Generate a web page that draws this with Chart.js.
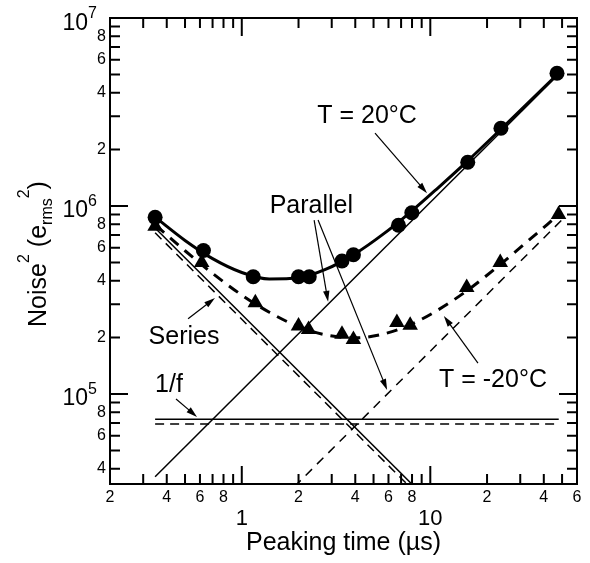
<!DOCTYPE html>
<html>
<head>
<meta charset="utf-8">
<script src="https://cdn.jsdelivr.net/npm/chart.js@4.4.0/dist/chart.umd.min.js"></script>
<style>
  html, body { margin: 0; padding: 0; background: #fff; }
  #chart { display: block; }
</style>
</head>
<body>
<canvas id="chart" width="590" height="563"></canvas>
<script>
// Puntos medidos (tiempo de conformado en us, ruido^2 en e_rms^2)
var tiempos20 = [0.347, 0.626, 1.15, 2.0, 2.28, 3.40, 3.91, 6.78, 7.98, 15.8, 23.7, 47];
var ruido20 = [8.7e5, 5.8e5, 4.2e5, 4.2e5, 4.2e5, 5.1e5, 5.5e5, 7.9e5, 9.2e5, 1.71e6, 2.59e6, 5.08e6];
var tiemposM20 = [0.347, 0.613, 1.18, 2.0, 2.26, 3.40, 3.91, 6.65, 7.82, 15.6, 23.5, 47.9];
var ruidoM20 = [7.8e5, 5.0e5, 3.06e5, 2.3e5, 2.2e5, 2.08e5, 1.95e5, 2.4e5, 2.32e5, 3.68e5, 5.0e5, 9.0e5];

// Curvas de ajuste
var tiemposAjuste = [0.35, 0.5, 0.7, 1.0, 1.4, 2, 2.8, 4, 5.6, 8, 11, 16, 23, 32, 48];
var ajuste20 = [8.67e5, 6.56e5, 5.25e5, 4.43e5, 4.09e5, 4.15e5, 4.61e5, 5.58e5, 7.06e5, 9.43e5, 1.25e6, 1.76e6, 2.49e6, 3.43e6, 5.1e6];
var ajusteM20 = [7.89e5, 5.78e5, 4.38e5, 3.36e5, 2.72e5, 2.28e5, 2.06e5, 1.99e5, 2.08e5, 2.36e5, 2.8e5, 3.6e5, 4.8e5, 6.35e5, 9.0e5];

// Componentes de ruido (serie, paralelo, 1/f)
var serieX20 = [0.347, 8.3];
var serieY20 = [7.64e5, 3.19e4];
var serieXM20 = [0.347, 8.0];
var serieYM20 = [7.2e5, 3.12e4];
var paraleloX20 = [0.347, 48];
var paraleloY20 = [3.63e4, 5.02e6];
var paraleloXM20 = [1.9, 50];
var paraleloYM20 = [3.21e4, 8.45e5];
var unoFX20 = [0.347, 48];
var unoFY20 = [7.33e4, 7.33e4];
var unoFXM20 = [0.347, 46];
var unoFYM20 = [6.92e4, 6.92e4];

// Marcas y etiquetas de los ejes
var mayoresX = [1, 10];
var menoresX = [0.3, 0.4, 0.5, 0.6, 0.7, 0.8, 0.9, 2, 3, 4, 5, 6, 7, 8, 9, 20, 30, 40, 50];
var etiquetasX = [0.2, 0.4, 0.6, 0.8, 2, 4, 6, 8, 20, 40, 60];
var mayoresY = [1e5, 1e6, 1e7];
var menoresY = [4e4, 5e4, 6e4, 7e4, 8e4, 9e4, 2e5, 3e5, 4e5, 5e5, 6e5, 7e5, 8e5, 9e5, 2e6, 3e6, 4e6, 5e6, 6e6, 7e6, 8e6, 9e6];
var etiquetasY = [4e4, 6e4, 8e4, 2e5, 4e5, 6e5, 8e5, 2e6, 4e6, 6e6, 8e6];

// Textos y flechas (en coordenadas de datos)
var textos = [
  { texto: 'T = 20°C', x: 4.62, y: 3.09e6 },
  { texto: 'Parallel', x: 2.34, y: 1.03e6 },
  { texto: 'Series', x: 0.494, y: 2.06e5 },
  { texto: '1/f', x: 0.411, y: 1.144e5 },
  { texto: 'T = -20°C', x: 21.5, y: 1.217e5 }
];
var flechas = [
  { de: [5.09, 2.44e6], a: [9.61, 1.17e6] },
  { de: [2.42, 8.42e5], a: [2.87, 3.09e5] },
  { de: [2.54, 8.42e5], a: [5.9, 1.05e5] },
  { de: [0.519, 2.51e5], a: [0.721, 3.24e5] },
  { de: [0.448, 9.41e4], a: [0.579, 7.55e4] },
  { de: [17.9, 1.46e5], a: [11.8, 2.6e5] }
];

var fuente = '"Liberation Sans", Arial, Helvetica, sans-serif';

function puntos(xs, ys) {
  return xs.map(function(x, i) { return { x: x, y: ys[i] }; });
}

function linea(xs, ys, grosor, guiones) {
  return {
    data: puntos(xs, ys),
    showLine: true,
    borderColor: '#000',
    borderWidth: grosor,
    borderDash: guiones || [],
    pointRadius: 0,
    fill: false
  };
}

function digito(v) {
  var e = Math.floor(Math.log10(v) + 1e-9);
  return String(Math.round(v / Math.pow(10, e)));
}

function flecha(ctx, x1, y1, x2, y2) {
  var ang = Math.atan2(y2 - y1, x2 - x1);
  var c = Math.cos(ang), s = Math.sin(ang);
  var largo = 11, ancho = 3.2;
  ctx.beginPath();
  ctx.moveTo(x1, y1);
  ctx.lineTo(x2 - c * largo * 0.7, y2 - s * largo * 0.7);
  ctx.stroke();
  ctx.beginPath();
  ctx.moveTo(x2, y2);
  ctx.lineTo(x2 - c * largo - s * ancho, y2 - s * largo + c * ancho);
  ctx.lineTo(x2 - c * largo + s * ancho, y2 - s * largo - c * ancho);
  ctx.closePath();
  ctx.fill();
}

// Plugin para dibujar el marco, las marcas, las etiquetas y las anotaciones
var ejes = {
  id: 'ejes',
  afterDraw: function(chart) {
    var ctx = chart.ctx;
    var area = chart.chartArea;
    var sx = chart.scales.x;
    var sy = chart.scales.y;
    ctx.save();
    ctx.strokeStyle = '#000';
    ctx.fillStyle = '#000';

    // Marco
    ctx.lineWidth = 2;
    ctx.strokeRect(area.left, area.top, area.right - area.left, area.bottom - area.top);

    // Marcas hacia adentro en los cuatro lados
    ctx.beginPath();
    function marcaX(v, l) {
      var p = sx.getPixelForValue(v);
      ctx.moveTo(p, area.bottom); ctx.lineTo(p, area.bottom - l);
      ctx.moveTo(p, area.top); ctx.lineTo(p, area.top + l);
    }
    function marcaY(v, l) {
      var p = sy.getPixelForValue(v);
      ctx.moveTo(area.left, p); ctx.lineTo(area.left + l, p);
      ctx.moveTo(area.right, p); ctx.lineTo(area.right - l, p);
    }
    menoresX.forEach(function(v) { marcaX(v, 10); });
    mayoresX.forEach(function(v) { marcaX(v, 18); });
    menoresY.forEach(function(v) { marcaY(v, 10); });
    mayoresY.forEach(function(v) { marcaY(v, 18); });
    ctx.stroke();

    // Etiquetas del eje X
    ctx.textAlign = 'center';
    ctx.textBaseline = 'middle';
    ctx.font = '16px ' + fuente;
    etiquetasX.forEach(function(v) {
      ctx.fillText(digito(v), sx.getPixelForValue(v), 498);
    });
    ctx.textBaseline = 'alphabetic';
    ctx.font = '22px ' + fuente;
    mayoresX.forEach(function(v) {
      ctx.fillText(String(v), sx.getPixelForValue(v), 525);
    });
    ctx.font = '25px ' + fuente;
    ctx.fillText('Peaking time (\u00b5s)', (area.left + area.right) / 2, 550);

    // Etiquetas del eje Y
    ctx.textAlign = 'right';
    ctx.textBaseline = 'middle';
    ctx.font = '16px ' + fuente;
    etiquetasY.forEach(function(v) {
      ctx.fillText(digito(v), 106, sy.getPixelForValue(v));
    });
    ctx.textBaseline = 'alphabetic';
    mayoresY.forEach(function(v) {
      var p = sy.getPixelForValue(v);
      ctx.textAlign = 'right';
      ctx.font = '23px ' + fuente;
      ctx.fillText('10', 88, p + 11.5);
      ctx.textAlign = 'left';
      ctx.font = '16px ' + fuente;
      ctx.fillText(String(Math.round(Math.log10(v))), 88, p);
    });

    // Titulo del eje Y (girado)
    var partes = [
      { t: 'Noise', f: 25, dy: 0 },
      { t: '2', f: 16, dy: -17 },
      { t: ' (e', f: 25, dy: 0 },
      { t: 'rms', f: 16, dy: 6 },
      { t: '2', f: 16, dy: -17 },
      { t: ')', f: 25, dy: 0 }
    ];
    ctx.save();
    ctx.translate(46, 254);
    ctx.rotate(-Math.PI / 2);
    ctx.textAlign = 'left';
    var total = 0;
    partes.forEach(function(p) {
      ctx.font = p.f + 'px ' + fuente;
      p.w = ctx.measureText(p.t).width;
      total += p.w;
    });
    var cx = -total / 2;
    partes.forEach(function(p) {
      ctx.font = p.f + 'px ' + fuente;
      ctx.fillText(p.t, cx, p.dy);
      cx += p.w;
    });
    ctx.restore();

    // Anotaciones
    ctx.textAlign = 'center';
    ctx.textBaseline = 'alphabetic';
    ctx.font = '25px ' + fuente;
    textos.forEach(function(t) {
      ctx.fillText(t.texto, sx.getPixelForValue(t.x), sy.getPixelForValue(t.y) + 9);
    });
    ctx.lineWidth = 1.2;
    flechas.forEach(function(f) {
      flecha(ctx,
        sx.getPixelForValue(f.de[0]), sy.getPixelForValue(f.de[1]),
        sx.getPixelForValue(f.a[0]), sy.getPixelForValue(f.a[1]));
    });
    ctx.restore();
  }
};

var datasets = [
  {
    data: puntos(tiempos20, ruido20),
    pointStyle: 'circle',
    pointRadius: 7.5,
    backgroundColor: '#000',
    borderColor: '#000',
    borderWidth: 0,
    showLine: false
  },
  {
    data: puntos(tiemposM20, ruidoM20),
    pointStyle: 'triangle',
    pointRadius: 9,
    backgroundColor: '#000',
    borderColor: '#000',
    borderWidth: 0,
    showLine: false
  }
];
var ajusteSolido = linea(tiemposAjuste, ajuste20, 3);
ajusteSolido.cubicInterpolationMode = 'monotone';
var ajusteGuiones = linea(tiemposAjuste, ajusteM20, 3, [11, 8]);
ajusteGuiones.cubicInterpolationMode = 'monotone';
datasets.push(ajusteSolido, ajusteGuiones);
datasets.push(linea(serieX20, serieY20, 1.5));
datasets.push(linea(serieXM20, serieYM20, 1.5, [9, 6]));
datasets.push(linea(paraleloX20, paraleloY20, 1.5));
datasets.push(linea(paraleloXM20, paraleloYM20, 1.5, [9, 7]));
datasets.push(linea(unoFX20, unoFY20, 1.5));
datasets.push(linea(unoFXM20, unoFYM20, 1.5, [9, 6]));

var chart = new Chart('chart', {
  type: 'scatter',
  data: { datasets: datasets },
  options: {
    responsive: false,
    animation: false,
    devicePixelRatio: 1,
    events: [],
    layout: { padding: { left: 110, top: 18, right: 13, bottom: 79 } },
    plugins: { legend: { display: false }, tooltip: { enabled: false } },
    scales: {
      x: { type: 'logarithmic', min: 0.2, max: 60, display: false },
      y: { type: 'logarithmic', min: 33200, max: 1e7, display: false }
    }
  },
  plugins: [ejes]
});
</script>
</body>
</html>
